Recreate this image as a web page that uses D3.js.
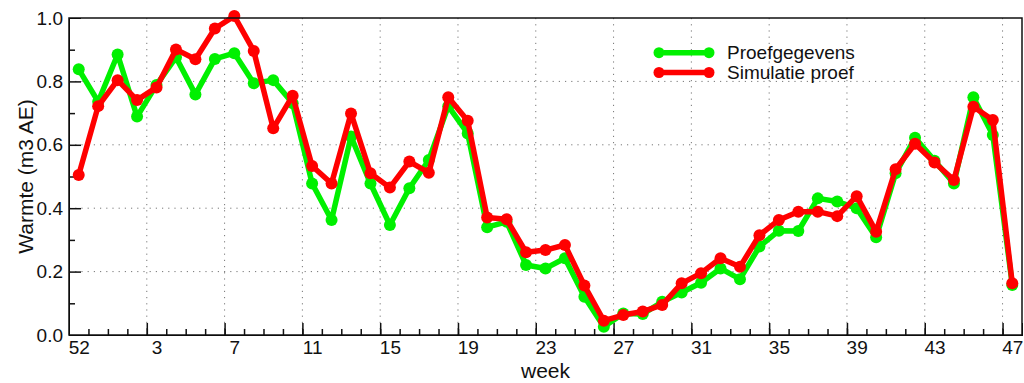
<!DOCTYPE html>
<html>
<head>
    <meta charset="utf-8">
    <style> body { margin: 0; background: #fff; } text { font-family: "Liberation Sans", Arial, sans-serif; } </style>
    <script src="https://d3js.org/d3.v7.min.js"></script>
</head>
<body>
<div id="chart"></div>
<script>

    // week labels, every 4th position of the axis
    var weekLabels = ["52", "3", "7", "11", "15", "19", "23", "27", "31", "35", "39", "43", "47"];

    var proef = [0.838, 0.736, 0.885, 0.689, 0.789, 0.876, 0.759, 0.871, 0.889, 0.794,
                 0.804, 0.731, 0.478, 0.363, 0.626, 0.478, 0.347, 0.463, 0.552, 0.722,
                 0.636, 0.340, 0.357, 0.221, 0.210, 0.242, 0.121, 0.026, 0.068, 0.066,
                 0.105, 0.134, 0.165, 0.210, 0.176, 0.279, 0.329, 0.328, 0.431, 0.421,
                 0.400, 0.308, 0.510, 0.622, 0.550, 0.478, 0.750, 0.631, 0.158];

    var simulatie = [0.505, 0.722, 0.804, 0.741, 0.781, 0.901, 0.870, 0.967, 1.006, 0.896,
                     0.652, 0.755, 0.533, 0.478, 0.699, 0.510, 0.465, 0.547, 0.512, 0.750,
                     0.676, 0.371, 0.365, 0.261, 0.268, 0.284, 0.156, 0.045, 0.063, 0.074,
                     0.095, 0.163, 0.195, 0.242, 0.215, 0.315, 0.363, 0.389, 0.389, 0.375,
                     0.438, 0.326, 0.523, 0.603, 0.544, 0.489, 0.720, 0.678, 0.163];

    var seriesNames = ["Proefgegevens", "Simulatie proef"];
    var colors = ["#00f000", "#ff0000"];

    var W = 1024, H = 383;
    var margin = {left: 69, right: 2, top: 18, bottom: 48};

    var svg = d3.select("#chart").append("svg")
        .attr("width", W)
        .attr("height", H);

    var x = d3.scaleLinear()
        .domain([0, 49])
        .range([margin.left, W - margin.right]);

    var y = d3.scaleLinear()
        .domain([0, 1])
        .range([H - margin.bottom, margin.top]);

    var x0 = x.range()[0], x1 = x.range()[1], y0 = y.range()[0], y1 = y.range()[1];

    var majorX = d3.range(4, 49, 4),
        minorX = d3.range(1, 49),
        gridY = [0.2, 0.4, 0.6, 0.8];

    // dotted grid
    var grid = svg.append("g")
        .attr("stroke", "#777")
        .attr("stroke-width", 1)
        .style("stroke-dasharray", "1.2, 5");

    grid.selectAll(".gx")
        .data(majorX)
        .enter()
        .append("line")
        .attr("x1", d => x(d)).attr("x2", d => x(d))
        .attr("y1", y1).attr("y2", y0);

    grid.selectAll(".gy")
        .data(gridY)
        .enter()
        .append("line")
        .attr("x1", x0).attr("x2", x1)
        .attr("y1", d => y(d)).attr("y2", d => y(d));

    // inward ticks
    svg.append("g")
        .attr("transform", "translate(0," + y0 + ")")
        .call(d3.axisTop(x).tickValues(minorX).tickSize(6).tickFormat(""));
    svg.append("g")
        .attr("transform", "translate(0," + y0 + ")")
        .call(d3.axisTop(x).tickValues(majorX).tickSize(12).tickFormat(""));
    svg.append("g")
        .attr("transform", "translate(" + x0 + ",0)")
        .call(d3.axisRight(y).tickValues(d3.range(0.1, 1, 0.2)).tickSize(6).tickFormat(""));
    svg.append("g")
        .attr("transform", "translate(" + x0 + ",0)")
        .call(d3.axisRight(y).tickValues([0.2, 0.4, 0.6, 0.8]).tickSize(12).tickFormat(""));

    // tick labels
    var xl = svg.append("g")
        .attr("class", "ax")
        .attr("transform", "translate(0," + y0 + ")")
        .call(d3.axisBottom(x)
            .tickValues(weekLabels.map((d, i) => i * 4 + 0.5))
            .tickSize(0).tickPadding(6)
            .tickFormat((d, i) => weekLabels[i]));

    var yl = svg.append("g")
        .attr("class", "ax")
        .attr("transform", "translate(" + x0 + ",0)")
        .call(d3.axisLeft(y).ticks(5).tickSize(0).tickPadding(6).tickFormat(d3.format(".1f")));

    svg.selectAll(".ax").selectAll("path").remove();
    svg.selectAll(".ax").selectAll("text")
        .attr("font-family", "Liberation Sans, Arial, sans-serif")
        .attr("font-size", 19)
        .attr("fill", "#111");
    svg.selectAll(".tick line").attr("stroke", "#111").attr("stroke-width", 1.5);

    // data lines
    var lines = svg.append("g");

    function addSeries(values, col) {
        var data = values.map((v, i) => ({i: i, v: v}));

        lines.append("path")
            .datum(data)
            .attr("fill", "none")
            .attr("stroke", col)
            .attr("stroke-width", 5.5)
            .attr("stroke-linejoin", "round")
            .attr("d", d3.line().x(d => x(d.i + 0.5)).y(d => y(d.v)));

        lines.append("g")
            .selectAll("circle")
            .data(data)
            .enter()
            .append("circle")
            .attr("cx", d => x(d.i + 0.5))
            .attr("cy", d => y(d.v))
            .attr("r", 6)
            .attr("fill", col);
    }

    addSeries(proef, colors[0]);
    addSeries(simulatie, colors[1]);

    // frame
    svg.append("rect")
        .attr("x", x0).attr("y", y1)
        .attr("width", x1 - x0).attr("height", y0 - y1)
        .attr("fill", "none")
        .attr("stroke", "#111")
        .attr("stroke-width", 1.5);

    // axis titles
    svg.append("text")
        .attr("x", (x0 + x1) / 2)
        .attr("y", 378)
        .attr("text-anchor", "middle")
        .attr("font-size", 21)
        .attr("fill", "#111")
        .text("week");

    svg.append("text")
        .attr("transform", "translate(33," + (y0 + y1) / 2 + ") rotate(-90)")
        .attr("text-anchor", "middle")
        .attr("font-size", 21)
        .attr("fill", "#111")
        .text("Warmte (m3 AE)");

    // legend
    var legend = svg.append("g");
    seriesNames.forEach(function(name, k) {
        var ly = 52.7 + k * 19.8;
        var g = legend.append("g");
        g.append("line")
            .attr("x1", 664).attr("x2", 704)
            .attr("y1", ly).attr("y2", ly)
            .attr("stroke", colors[k])
            .attr("stroke-width", 5.5);
        g.selectAll("circle")
            .data([659, 709])
            .enter()
            .append("circle")
            .attr("cx", d => d).attr("cy", ly)
            .attr("r", 5.5)
            .attr("fill", colors[k]);
        g.append("text")
            .attr("x", 727)
            .attr("y", ly + 6.5)
            .attr("font-size", 19)
            .attr("fill", "#111")
            .text(name);
    });

</script>
</body>
</html>
